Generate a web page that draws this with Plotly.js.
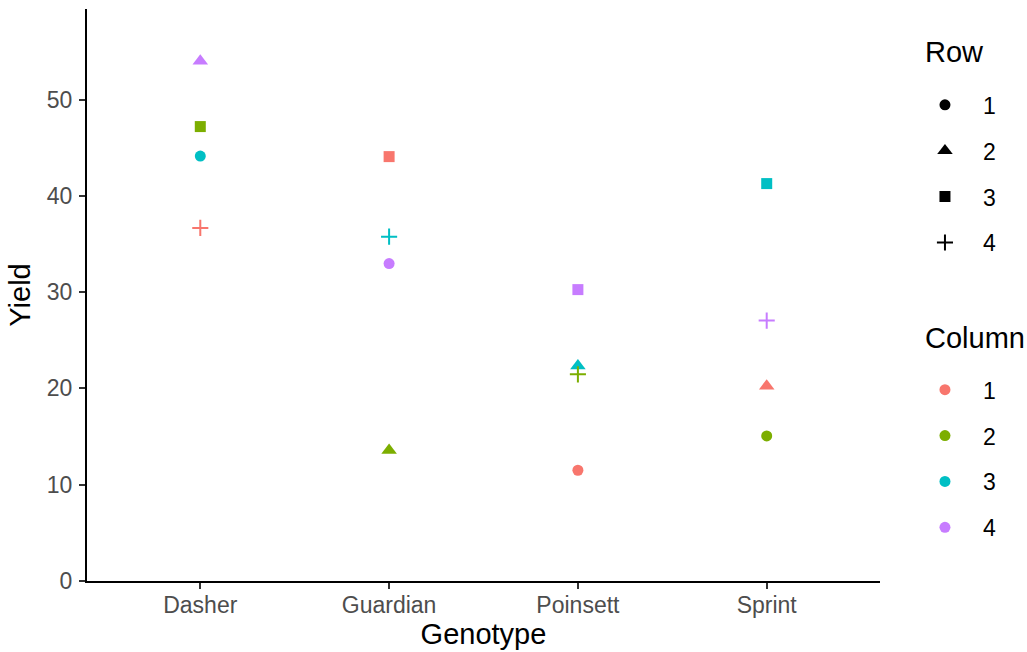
<!DOCTYPE html>
<html>
<head>
<meta charset="utf-8">
<script src="https://cdn.plot.ly/plotly-3.0.1.min.js"></script>
<style>html,body{margin:0;padding:0;background:#fff;}#chart{width:1027px;height:652px;}</style>
</head>
<body>
<div id="chart"></div>
<script>
// Data (Latin square: Genotype x Row x Column)
const genotypes = ["Dasher", "Guardian", "Poinsett", "Sprint"];
const pointGenotype = ["Dasher","Dasher","Dasher","Dasher",
                       "Guardian","Guardian","Guardian","Guardian",
                       "Poinsett","Poinsett","Poinsett","Poinsett",
                       "Sprint","Sprint","Sprint","Sprint"];
const pointRow    = [1,2,3,4, 1,2,3,4, 1,2,3,4, 1,2,3,4];
const pointColumn = [3,4,2,1, 4,2,1,3, 1,3,4,2, 2,1,3,4];
const pointYield  = [44.13,54.0,47.19,36.67, 32.96,13.57,44.07,35.76,
                     11.50,22.35,30.26,21.46, 15.06,20.25,41.27,27.04];
const rowLevels = [1,2,3,4];
const columnLevels = [1,2,3,4];
const yTicks = [0,10,20,30,40,50];

// Styles
const colColors = {1:"#F8766D", 2:"#7CAE00", 3:"#00BFC4", 4:"#C77CFF"};
const rowSymbols = {1:"circle", 2:"triangle-up", 3:"square", 4:"cross-thin"};
const rowSizes = {1:11, 2:13.5, 3:11, 4:11.5};

const traces = [];
rowLevels.forEach(r => {
  const idx = pointRow.map((v,i)=>v===r?i:-1).filter(i=>i>=0);
  const cols = idx.map(i=>colColors[pointColumn[i]]);
  traces.push({
    type:"scatter", mode:"markers",
    x: idx.map(i=>pointGenotype[i]),
    y: idx.map(i=>pointYield[i]),
    showlegend:false, hoverinfo:"x+y",
    marker:{symbol:rowSymbols[r], size:rowSizes[r], color:cols,
            line:{width: r===4?2:0, color:cols}}
  });
});
// Legend entries: Row (shape)
rowLevels.forEach(r => {
  traces.push({
    type:"scatter", mode:"markers", x:[null], y:[null],
    name:String(r), legend:"legend", legendgroup:"row"+r, showlegend:true,
    marker:{symbol:rowSymbols[r], size:rowSizes[r], color:"#000000",
            line:{width: r===4?2:0, color:"#000000"}}
  });
});
// Legend entries: Column (colour)
columnLevels.forEach(c => {
  traces.push({
    type:"scatter", mode:"markers", x:[null], y:[null],
    name:String(c), legend:"legend2", legendgroup:"col"+c, showlegend:true,
    marker:{symbol:"circle", size:11, color:colColors[c]}
  });
});

const font = {family:"Liberation Sans, Arial, sans-serif"};
const legendBase = {
  font:{family:font.family, size:23, color:"#000000"},
  bgcolor:"rgba(0,0,0,0)", borderwidth:0,
  itemwidth:66, tracegroupgap:13, xanchor:"left", yanchor:"top",
  itemclick:false, itemdoubleclick:false
};

const layout = {
  width:1027, height:652,
  margin:{l:87, r:147, t:9, b:71.3, pad:0},
  paper_bgcolor:"#ffffff", plot_bgcolor:"#ffffff",
  font:font,
  xaxis:{
    type:"category", categoryorder:"array", categoryarray:genotypes,
    range:[-0.6, 3.6], fixedrange:true,
    showgrid:false, zeroline:false,
    showline:true, linecolor:"#000000", linewidth:2,
    ticks:"outside", ticklen:6, tickwidth:2, tickcolor:"#333333",
    ticklabelstandoff:-4,
    tickfont:{family:font.family, size:23, color:"#4D4D4D"},
    title:{text:"Genotype", font:{family:font.family, size:29, color:"#000000"}, standoff:6}
  },
  yaxis:{
    range:[0, 59.4], fixedrange:true,
    tickvals:yTicks, ticktext:yTicks.map(String),
    showgrid:false, zeroline:false,
    showline:true, linecolor:"#000000", linewidth:2,
    ticks:"outside", ticklen:6, tickwidth:2, tickcolor:"#333333",
    ticklabelstandoff:2,
    tickfont:{family:font.family, size:23, color:"#4D4D4D"},
    title:{text:"Yield", font:{family:font.family, size:29, color:"#000000"}, standoff:8}
  },
  legend: Object.assign({}, legendBase, {x:1.034, y:0.870}),
  legend2: Object.assign({}, legendBase, {x:1.034, y:0.372}),
  annotations:[
    {text:"Row", xref:"paper", yref:"paper", x:(923-87)/793, y:(580.7-52)/571.7,
     xanchor:"left", yanchor:"middle", showarrow:false,
     font:{family:font.family, size:29, color:"#000000"}},
    {text:"Column", xref:"paper", yref:"paper", x:(923-87)/793, y:(580.7-338)/571.7,
     xanchor:"left", yanchor:"middle", showarrow:false,
     font:{family:font.family, size:29, color:"#000000"}}
  ],
  showlegend:true
};

Plotly.newPlot("chart", traces, layout, {displayModeBar:false, staticPlot:true});
</script>
</body>
</html>
